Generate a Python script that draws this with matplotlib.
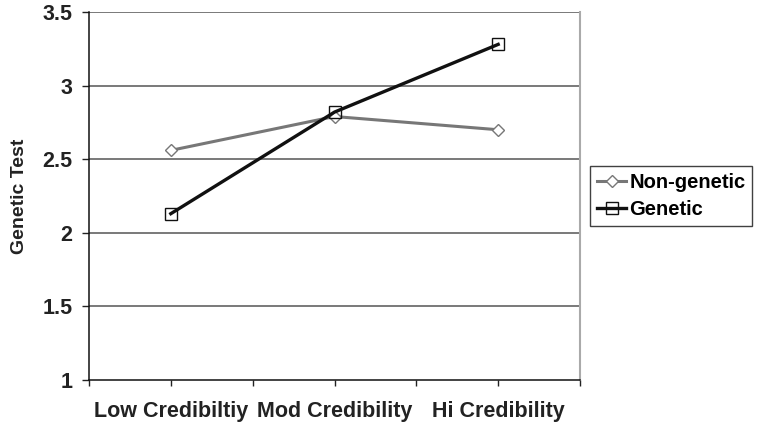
import matplotlib
matplotlib.use("Agg")
import matplotlib.pyplot as plt
from matplotlib.ticker import MultipleLocator

categories = ["Low Credibiltiy", "Mod Credibility", "Hi Credibility"]
non_genetic = [2.56, 2.79, 2.70]
genetic = [2.13, 2.82, 3.28]
y_ticks = [1, 1.5, 2, 2.5, 3, 3.5]
y_tick_labels = ["1", "1.5", "2", "2.5", "3", "3.5"]

plt.rcParams['font.family'] = ['Liberation Sans', 'DejaVu Sans']

fig = plt.figure(figsize=(7.57, 4.30), dpi=100)
ax = fig.add_axes([89/757, 50/430, (580-89)/757, (380-12)/430])

xpos = [i + 0.5 for i in range(len(categories))]

for y in y_ticks[1:]:
    ax.axhline(y, color="#555555", lw=1.1, zorder=1)

ax.plot(xpos, non_genetic, color="#777777", lw=2.2, marker="D", markersize=6.5,
        markerfacecolor="white", markeredgecolor="#777777", markeredgewidth=1.0,
        label="Non-genetic", zorder=3)
ax.plot(xpos, genetic, color="#111111", lw=2.4, marker="s", markersize=8.5,
        markerfacecolor="none", markeredgecolor="#111111", markeredgewidth=1.0,
        label="Genetic", zorder=4)

ax.set_xlim(0, 3)
ax.set_ylim(1, 3.5)
ax.set_yticks(y_ticks)
ax.set_yticklabels(y_tick_labels, fontsize=15.5, fontweight="bold")
ax.xaxis.set_major_locator(MultipleLocator(0.5))
ax.set_xticklabels([])
ax.tick_params(axis="x", which="major", direction="out", length=4, width=1, colors="#222222")
ax.tick_params(axis="y", direction="out", length=5, width=1, pad=7, colors="#222222")
for lab in ax.get_yticklabels():
    lab.set_color("#222222")
for x, c in zip(xpos, categories):
    ax.text(x, -0.085, c, transform=ax.get_xaxis_transform(), ha="center", va="center",
            fontsize=15.5, fontweight="bold", color="#222222")

ax.spines["top"].set_visible(False)
ax.spines["right"].set_color("#aaaaaa")
ax.spines["right"].set_linewidth(1.5)
ax.spines["left"].set_color("#111111")
ax.spines["bottom"].set_color("#111111")
ax.spines["left"].set_linewidth(1.1)
ax.spines["bottom"].set_linewidth(1.1)

ax.set_ylabel("Genetic Test", fontsize=14, fontweight="bold", color="#222222", labelpad=10)

leg = ax.legend(loc="center left", bbox_to_anchor=(590/757, (430-196)/430),
                bbox_transform=fig.transFigure, frameon=True, fancybox=False,
                prop={"family": "Liberation Sans", "weight": "bold", "size": 14.5},
                handlelength=1.45, handletextpad=0.15, borderpad=0.35, labelspacing=0.4,
                borderaxespad=0)
leg.get_frame().set_edgecolor("#111111")
leg.get_frame().set_linewidth(1.0)

fig.savefig("out.png", dpi=100)
